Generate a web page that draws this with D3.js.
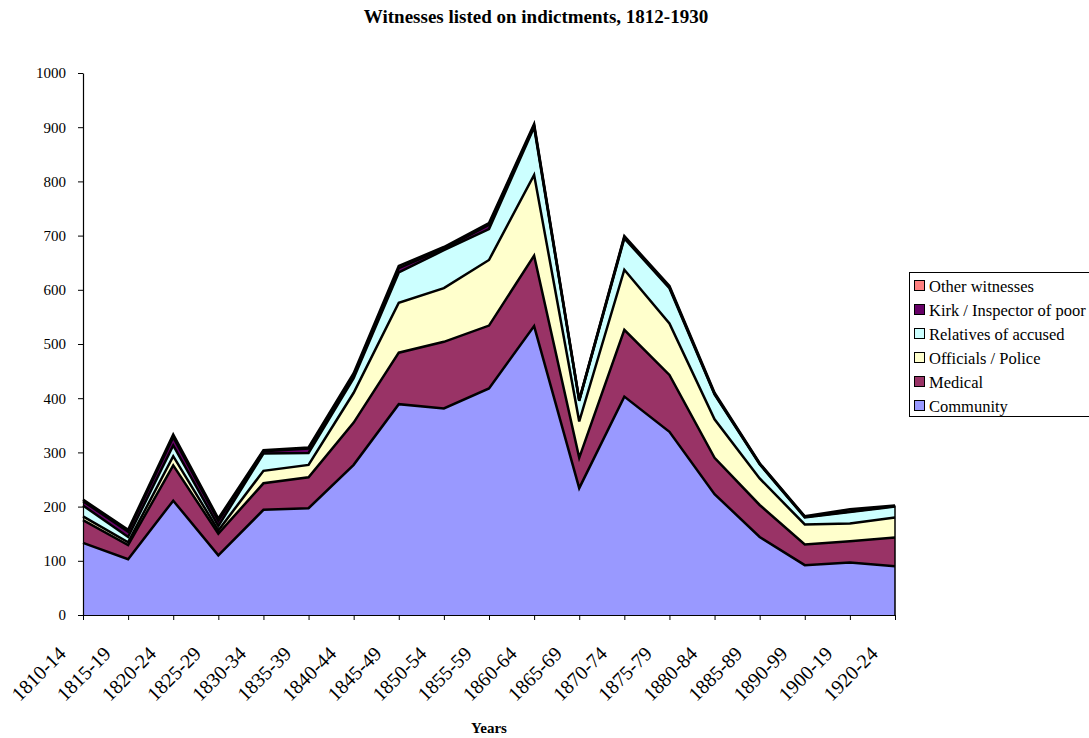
<!DOCTYPE html>
<html>
<head>
<meta charset="utf-8">
<script src="https://cdn.jsdelivr.net/npm/d3@7"></script>
<style>
  html, body { margin: 0; padding: 0; background: #fff; }
  svg { display: block; font-family: "Liberation Serif", "Times New Roman", serif; }
</style>
</head>
<body>
<svg id="chart" width="1089" height="738"></svg>
<script>
const categories = ["1810-14","1815-19","1820-24","1825-29","1830-34","1835-39","1840-44","1845-49","1850-54","1855-59","1860-64","1865-69","1870-74","1875-79","1880-84","1885-89","1890-99","1900-19","1920-24"];
const community  = [133,103,211,110,194,197,277,389,381,418,533,234,403,338,223,144, 92, 97, 90];
const medical    = [ 42, 26, 65, 40, 49, 57, 78, 95,123,116,130, 56,123,105, 67, 59, 38, 39, 53];
const officials  = [  7,  5, 17,  6, 23, 23, 55, 92, 99,121,149, 67,111, 95, 71, 49, 37, 33, 37];
const relatives  = [ 20, 10, 20,  8, 32, 22, 27, 56, 70, 57, 88, 38, 58, 65, 46, 26, 13, 21, 20];
const kirk       = [  8, 10, 15, 10,  4,  8,  5,  8,  3,  8,  3,  1,  2,  2,  1,  1,  1,  1,  1];
const other      = [  3,  3,  5,  4,  2,  2,  4,  4,  3,  3,  3,  1,  2,  2,  2,  1,  1,  4,  1];
const seriesNames = ["Community","Medical","Officials / Police","Relatives of accused","Kirk / Inspector of poor","Other witnesses"];
const seriesColors = ["#9999FF","#993366","#FFFFCC","#CCFFFF","#660066","#FF8080"];
const yTicks = [0,100,200,300,400,500,600,700,800,900,1000];
const title = "Witnesses listed on indictments, 1812-1930";
const xTitle = "Years";

const seriesValues = [community, medical, officials, relatives, kirk, other];
const keys = seriesNames;
const table = categories.map((c, i) => {
  const row = { cat: c };
  keys.forEach((k, j) => row[k] = seriesValues[j][i]);
  return row;
});

const svg = d3.select("#chart");
const pLeft = 83, pRight = 895, pTop = 73, pBottom = 615;

const x = d3.scalePoint().domain(categories).range([pLeft, pRight]);
const y = d3.scaleLinear().domain([0, 1000]).range([pBottom, pTop]);

const stack = d3.stack().keys(keys);
const layers = stack(table);

const area = d3.area()
  .x(d => x(d.data.cat))
  .y0(d => y(d[0]))
  .y1(d => y(d[1]));
const line = d3.line()
  .x(d => x(d.data.cat))
  .y(d => y(d[1]));

const g = svg.append("g");
g.selectAll("path.area").data(layers).enter().append("path")
  .attr("class", "area")
  .attr("d", area)
  .attr("fill", (d, i) => seriesColors[i])
  .attr("stroke", "none");
g.selectAll("path.edge").data(layers).enter().append("path")
  .attr("class", "edge")
  .attr("d", line)
  .attr("fill", "none")
  .attr("stroke", "#000")
  .attr("stroke-width", 2.5)
  .attr("stroke-linejoin", "miter");
// right edge of the stack
g.append("line")
  .attr("x1", pRight).attr("x2", pRight)
  .attr("y1", y(0)).attr("y2", y(layers[layers.length-1][categories.length-1][1]))
  .attr("stroke", "#000").attr("stroke-width", 1.5);

// Y axis
const yAxis = d3.axisLeft(y).tickValues(yTicks).tickFormat(d3.format("d")).tickSize(5).tickSizeOuter(0).tickPadding(12);
const ya = svg.append("g").attr("transform", `translate(${pLeft},0)`).call(yAxis);
ya.attr("font-family", null);
ya.select(".domain").attr("stroke", "#000").attr("stroke-width", 1.2);
ya.selectAll(".tick line").attr("stroke", "#000");
ya.selectAll(".tick text").attr("font-size", 15).attr("fill", "#000");

// X axis
const xAxis = d3.axisBottom(x).tickSize(5).tickSizeOuter(0).tickFormat("");
const xa = svg.append("g").attr("transform", `translate(0,${pBottom})`).call(xAxis);
xa.select(".domain").attr("stroke", "#000").attr("stroke-width", 1.2);
xa.selectAll(".tick line").attr("stroke", "#000");

svg.append("g").selectAll("text.xl").data(categories).enter().append("text")
  .attr("class", "xl")
  .attr("transform", d => `translate(${x(d) - 16},${pBottom + 40}) rotate(-45)`)
  .attr("text-anchor", "end")
  .attr("font-size", 20)
  .attr("fill", "#000")
  .text(d => d);

// Titles
svg.append("text")
  .attr("x", 536).attr("y", 23)
  .attr("text-anchor", "middle")
  .attr("font-size", 19).attr("font-weight", "bold")
  .text(title);
svg.append("text")
  .attr("x", (pLeft + pRight) / 2).attr("y", 733)
  .attr("text-anchor", "middle")
  .attr("font-size", 15).attr("font-weight", "bold")
  .text(xTitle);

// Legend
const lg = svg.append("g");
lg.append("rect")
  .attr("x", 909.5).attr("y", 272.5).attr("width", 190).attr("height", 144)
  .attr("fill", "#fff").attr("stroke", "#000").attr("stroke-width", 1);
const legendOrder = d3.range(seriesNames.length).reverse();
legendOrder.forEach((si, k) => {
  const cy = 286 + k * 24;
  lg.append("rect")
    .attr("x", 914.5).attr("y", cy - 5.5).attr("width", 10).attr("height", 10)
    .attr("fill", seriesColors[si]).attr("stroke", "#000").attr("stroke-width", 1);
  lg.append("text")
    .attr("x", 929).attr("y", cy + 5.5)
    .attr("font-size", 16.5).attr("fill", "#000")
    .text(seriesNames[si]);
});
</script>
</body>
</html>
